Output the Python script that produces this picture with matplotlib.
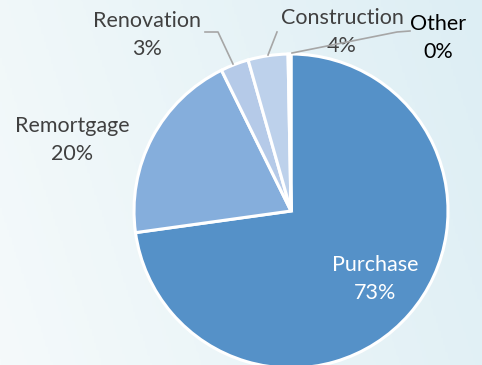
import matplotlib
matplotlib.use("Agg")
import matplotlib.pyplot as plt
import numpy as np
from matplotlib.colors import LinearSegmentedColormap

plt.rcParams["font.family"] = ["Lato", "DejaVu Sans"]

# Loan purpose shares (%)
purposes = ["Purchase", "Remortgage", "Renovation", "Construction", "Other"]
shares = [72.8, 19.9, 2.9, 4.1, 0.3]
colors = ["#5591C8", "#85AEDC", "#B5CAE8", "#BDD1EB", "#C8D9EE"]

fig = plt.figure(figsize=(4.82, 3.65), dpi=100)

# soft left-to-right background wash
bg = fig.add_axes([0, 0, 1, 1])
bg.axis("off")
wash = LinearSegmentedColormap.from_list("wash", ["#F5FAFB", "#DDEEF4"])
gx, gy = np.meshgrid(np.linspace(0, 1, 200), np.linspace(0, 1, 200))
bg.imshow(0.8 * gx + 0.2 * (1 - gy), cmap=wash, aspect="auto",
          extent=[0, 1, 0, 1], vmin=0, vmax=1)

ax = fig.add_axes([134 / 482, -3 / 365, 314 / 482, 314 / 365])
ax.pie(shares, colors=colors, startangle=90, counterclock=False,
       radius=1.0, wedgeprops=dict(edgecolor="white", linewidth=2.2))
ax.set_xlim(-1, 1)
ax.set_ylim(-1, 1)
ax.axis("off")

labels = [f"{p}\n{round(s)}%" for p, s in zip(purposes, shares)]

def px(x, y):
    return ((x - 291) / 157, (211 - y) / 157)

# label centres in pixel positions
pos = [(375, 279), (72, 140), (147, 35), (342, 32), (438, 38)]
tcol = ["white", "#404040", "#404040", "#404040", "black"]
for lab, p, c in zip(labels, pos, tcol):
    x, y = px(*p)
    ax.text(x, y, lab, ha="center", va="center", fontsize=15.5, color=c,
            linespacing=1.45, clip_on=False)

# leader lines
lead = "#A6A6A6"
leaders = [
    [(205, 32), (218, 32), (233, 64)],
    [(277, 32), (268, 55)],
    [(410, 31), (397, 32), (292, 53)],
]
for pts in leaders:
    xs, ys = zip(*[px(*p) for p in pts])
    ax.plot(xs, ys, color=lead, lw=1.2, clip_on=False, zorder=5)

fig.savefig("out.png", dpi=100)
